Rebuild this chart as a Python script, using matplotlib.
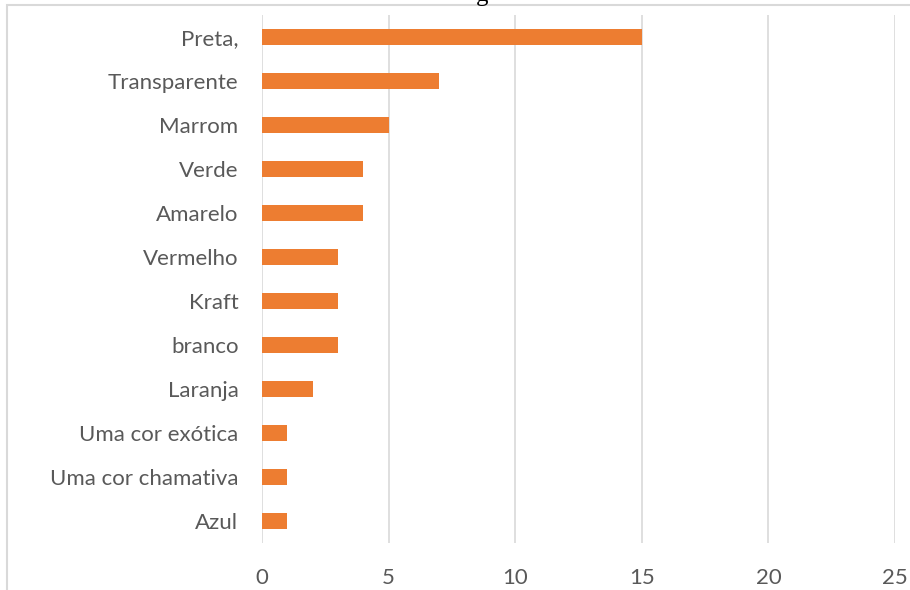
import matplotlib.pyplot as plt
from matplotlib.patches import Rectangle

# data (bottom to top)
cores = ["Azul", "Uma cor chamativa", "Uma cor exótica", "Laranja", "branco",
         "Kraft", "Vermelho", "Amarelo", "Verde", "Marrom", "Transparente", "Preta,"]
votos = [1, 1, 1, 2, 3, 3, 3, 4, 4, 5, 7, 15]
ticks_x = [0, 5, 10, 15, 20, 25]

plt.rcParams['font.family'] = ['Lato', 'DejaVu Sans']

fig = plt.figure(figsize=(9.1, 5.9), dpi=100)
ax = fig.add_axes([262 / 910, 1 - 543 / 590, (895 - 262) / 910, (543 - 15) / 590])

ax.barh(range(len(cores)), votos, height=0.36, color="#ED7D31", zorder=3)

ax.set_xlim(0, 25)
ax.set_ylim(-0.5, len(cores) - 0.5)
ax.set_xticks(ticks_x)
ax.set_yticks(range(len(cores)))
ax.set_yticklabels(cores)
ax.grid(axis="x", color="#D9D9D9", linewidth=1.2, zorder=0)
ax.tick_params(length=0, labelsize=16, colors="#595959")
ax.tick_params(axis="x", pad=18)
ax.tick_params(axis="y", pad=17)
for s in ax.spines.values():
    s.set_visible(False)

# chart frame, cut off at the right and bottom
fig.patches.append(Rectangle((7 / 910, -0.05), 1.1, 1 - 5 / 590 + 0.05,
                             transform=fig.transFigure, fill=False,
                             edgecolor="#D9D9D9", linewidth=1.5))

# tail of the title showing above the frame
fig.text(482 / 910, 1 - 1 / 590, "g", family="Liberation Serif", fontsize=18,
         ha="center", va="baseline", color="black")

fig.savefig("out.png", dpi=100)
